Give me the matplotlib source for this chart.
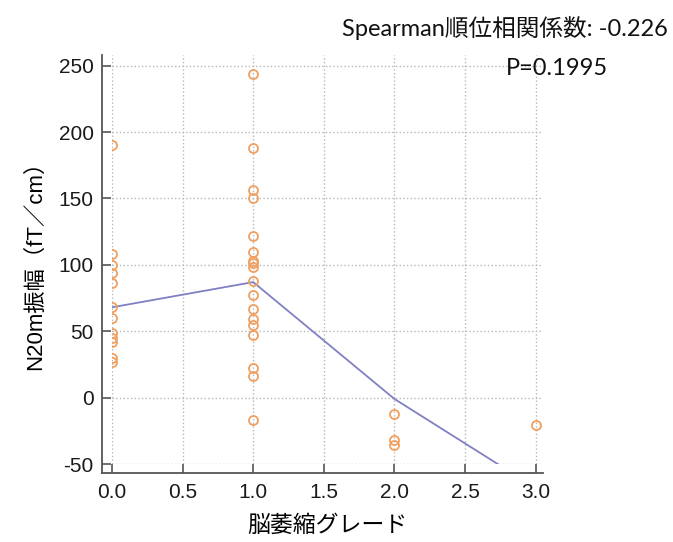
import numpy as np
import matplotlib.pyplot as plt

# 脳萎縮グレードごとの N20m 振幅 (fT/cm)
grade0 = [190, 108, 100, 94, 86, 68, 60, 49, 45, 42, 30, 27]
grade1 = [244, 188, 156, 150, 122, 110, 103, 101, 98, 88, 77, 67, 59, 55, 47, 22, 16, -17]
grade2 = [-12, -32, -36]
grade3 = [-21]

# 平滑化曲線 (各グレードでの値)
fit_x = [0, 1, 2, 3]
fit_y = [68, 87, -1, -68]

xticks = [0.0, 0.5, 1.0, 1.5, 2.0, 2.5, 3.0]
yticks = [-50, 0, 50, 100, 150, 200, 250]

latin = 'Liberation Sans'
cjk = 'Noto Sans CJK JP'
plt.rcParams['font.family'] = [latin, cjk]
plt.rcParams['axes.unicode_minus'] = False

fig = plt.figure(figsize=(6.73, 5.42), dpi=100)
ax = fig.add_axes([0.1664, 0.1439, 0.640, 0.7546])

orange = '#f0a060'
for g, vals in enumerate([grade0, grade1, grade2, grade3]):
    ax.plot(np.full(len(vals), g), vals, 'o', ms=6.5, mfc='none',
            mec=orange, mew=1.3, zorder=3)

ax.plot(fit_x, fit_y, color='#8080c4', lw=1.3, zorder=2)

ax.set_xlim(0, 3.05)
ax.set_ylim(-50, 258)
ax.set_xticks(xticks)
ax.set_xticklabels([f'{t:.1f}' for t in xticks])
ax.set_yticks(yticks)

ax.grid(True, color='#b8b8b8', linestyle=':', linewidth=1.0)
ax.set_axisbelow(True)

for s in ['top', 'right']:
    ax.spines[s].set_visible(False)
ax.spines['left'].set_position(('outward', 7.2))
ax.spines['bottom'].set_position(('outward', 6.5))
for s in ['left', 'bottom']:
    ax.spines[s].set_color('#555555')
    ax.spines[s].set_linewidth(1.3)
ax.spines['left'].set_bounds(-56.8, 258)
ax.spines['bottom'].set_bounds(-0.07, 3.05)

ax.tick_params(direction='in', length=6.5, width=1.2, color='#555555',
               labelsize=15, labelcolor='#1a1a1a')
ax.tick_params(axis='y', pad=6)
ax.tick_params(axis='x', pad=7)

ax.set_xlabel('脳萎縮グレード', fontsize=16.5, family=[cjk], labelpad=9)
ax.set_ylabel('N20m振幅（fT／cm）', fontsize=16, labelpad=9)

fig.text(0.993, 0.948, 'Spearman順位相関係数: -0.226', ha='right', va='center',
         fontsize=17, family=['Lato', cjk], color='#111111')
fig.text(0.904, 0.874, 'P=0.1995', ha='right', va='center',
         fontsize=17, family=['Lato', cjk], color='#111111')

fig.savefig('out.png', dpi=100)
